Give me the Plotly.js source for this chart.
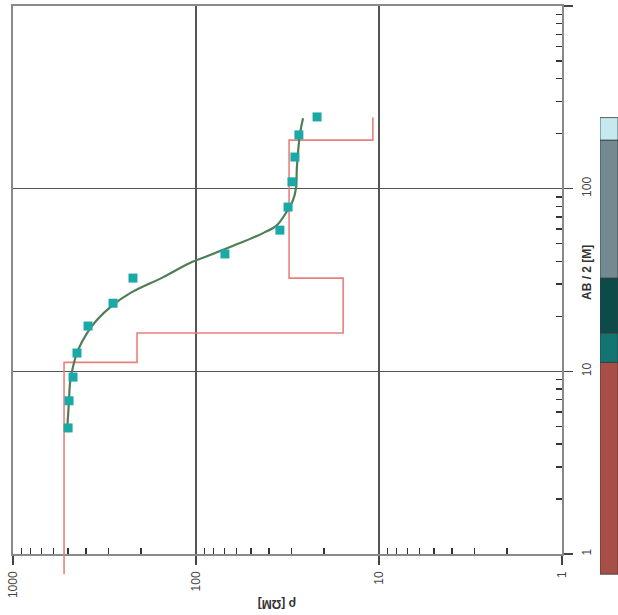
<!DOCTYPE html>
<html>
<head>
<meta charset="utf-8">
<script src="https://cdn.plot.ly/plotly-3.0.1.min.js"></script>
<style>html,body{margin:0;padding:0;background:#fff}#chart{width:618px;height:615px}</style>
</head>
<body>
<div id="chart"></div>
<script>
// Measured apparent resistivity (AB/2 in m, rho in ohm-m)
const ab2Obs = [4.9, 6.9, 9.3, 12.6, 17.7, 23.6, 32.4, 43.9, 59.3, 79.3, 109, 149, 197, 247];
const rhoObs = [500, 494, 470, 447, 389, 284, 221, 69.5, 34.8, 31.4, 29.9, 28.8, 27.4, 21.8];

// Model response curve
const ab2Fit = [4.65, 5.77, 6.97, 8.63, 10.6, 13.1, 16.2, 19.1, 23.1, 26.8, 32.8, 39.2, 43.3, 47.9, 57.1, 63.2, 75.4, 86.6, 101, 131, 201, 243];
const rhoFit = [507, 500, 494, 488, 470, 441, 394, 348, 284, 229, 151, 108, 83.8, 65.2, 43.0, 36.1, 31.8, 29.5, 28.4, 28.1, 27.0, 26.0];

// Layered model: resistivity of each layer and depth boundaries
const layerRho = [526, 210, 15.7, 31, 10.8];
const layerBounds = [0.775, 11.2, 16.2, 32.4, 184.5, 245];

// Tick labels
const tickVals = [1, 10, 100, 1000];
const tickText = ['1', '10', '100', '1000'];
const minorVals = [2, 3, 4, 5, 6, 7, 8, 9, 20, 30, 40, 50, 60, 70, 80, 90, 200, 300, 400, 500, 600, 700, 800, 900];

// Styles
const layerColors = ['#a84e49', '#137572', '#0c4b49', '#738a93', '#c6e9f0'];

// Build step line for model
const stepX = [], stepY = [];
for (let i = 0; i < layerRho.length; i++) {
  stepX.push(layerRho[i], layerRho[i]);
  stepY.push(layerBounds[i], layerBounds[i + 1]);
}

const traces = [];
traces.push({x: [], y: [], xaxis: 'x', yaxis: 'y', type: 'scatter', mode: 'markers', showlegend: false, hoverinfo: 'skip'});

// Layer column
for (let i = 0; i < layerRho.length; i++) {
  traces.push({
    type: 'bar', x: [0], base: [layerBounds[i]], y: [layerBounds[i + 1] - layerBounds[i]],
    width: [1], xaxis: 'x3', yaxis: 'y2',
    marker: {color: layerColors[i], line: {color: '#3a3a3a', width: 0.8}},
    showlegend: false, hoverinfo: 'skip'
  });
}

traces.push({
  x: stepX, y: stepY, xaxis: 'x2', yaxis: 'y2', type: 'scatter', mode: 'lines',
  line: {color: '#e6817d', width: 1.6}, showlegend: false
});
traces.push({
  x: rhoFit, y: ab2Fit, xaxis: 'x2', yaxis: 'y2', type: 'scatter', mode: 'lines',
  line: {color: '#4f7d55', width: 2.2, shape: 'spline', smoothing: 1}, showlegend: false
});
traces.push({
  x: rhoObs, y: ab2Obs, xaxis: 'x2', yaxis: 'y2', type: 'scatter', mode: 'markers',
  marker: {symbol: 'square', size: 9, color: '#1aa9a6'}, showlegend: false
});

const tickFont = {family: 'Liberation Sans, Arial, sans-serif', size: 12, color: '#444'};
const axisCommon = {
  type: 'log', tickmode: 'array', tickvals: tickVals, ticktext: tickText,
  ticks: 'outside', ticklen: 9, tickwidth: 1.3, tickcolor: '#444',
  tickangle: -90, tickfont: tickFont,
  showline: true, linecolor: '#8a8a8a', linewidth: 1.6, mirror: true,
  showgrid: true, gridcolor: '#555', gridwidth: 1.3, zeroline: false,
  minor: {tickmode: 'array', tickvals: minorVals, ticks: 'inside', ticklen: 6, tickwidth: 1.4, tickcolor: '#333', showgrid: false}
};

const layout = {
  width: 618, height: 615,
  margin: {l: 13, r: 0, t: 6, b: 40, pad: 0},
  paper_bgcolor: '#fff', plot_bgcolor: 'rgba(0,0,0,0)',
  showlegend: false, barmode: 'overlay',
  xaxis: Object.assign({}, axisCommon, {domain: [0, 0.90744], range: [3, 0], anchor: 'y', side: 'bottom', ticklabelstandoff: 2}),
  yaxis: Object.assign({}, axisCommon, {domain: [0.03691, 1], range: [0, 3], anchor: 'x', side: 'right', ticklabelstandoff: 4}),
  xaxis2: {type: 'log', domain: [0, 0.90744], range: [3, 0], visible: false, anchor: 'y2'},
  yaxis2: {type: 'log', domain: [0, 1], range: [-0.1149, 3], visible: false, anchor: 'x2'},
  xaxis3: {domain: [0.97025, 1], range: [-0.5, 0.5], visible: false, anchor: 'y2'},
  annotations: [
    {text: 'ρ [ΩM]', xref: 'paper', yref: 'paper', x: 0.4364, y: -0.0510, xanchor: 'center', yanchor: 'middle', showarrow: false,
     textangle: 180, font: {family: 'Liberation Sans, Arial, sans-serif', size: 12, color: '#333', weight: 'bold'}},
    {text: 'AB / 2 [M]', xref: 'paper', yref: 'paper', x: 0.9488, y: 0.5308, xanchor: 'center', yanchor: 'middle', showarrow: false,
     textangle: -90, font: {family: 'Liberation Sans, Arial, sans-serif', size: 12, color: '#333', weight: 'bold'}}
  ]
};

Plotly.newPlot('chart', traces, layout, {displayModeBar: false, staticPlot: true});
</script>
</body>
</html>
